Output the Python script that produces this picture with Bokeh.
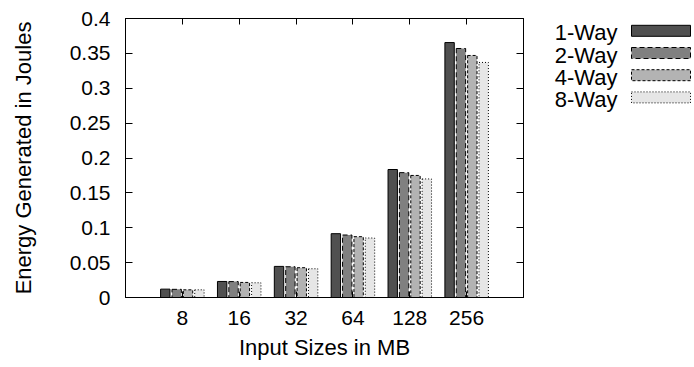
from bokeh.plotting import figure
from bokeh.models import FixedTicker, LinearAxis, CustomJSTickFormatter, ColumnDataSource, Range1d
from bokeh.layouts import row
from bokeh.embed import file_html
from bokeh.resources import INLINE
from bokeh.core.properties import value
from bokeh.transform import dodge

# ---- data ----
sizes = ["8", "16", "32", "64", "128", "256"]
series = ["1-Way", "2-Way", "4-Way", "8-Way"]
way1 = [0.0120, 0.0230, 0.0446, 0.0915, 0.1835, 0.3655]
way2 = [0.0117, 0.0228, 0.0441, 0.0896, 0.1790, 0.3570]
way4 = [0.0110, 0.0216, 0.0427, 0.0872, 0.1750, 0.3470]
way8 = [0.0110, 0.0211, 0.0412, 0.0853, 0.1700, 0.3370]
y_ticks = [0, 0.05, 0.1, 0.15, 0.2, 0.25, 0.3, 0.35, 0.4]

# ---- styles ----
FONT = "Liberation Sans"
FS = "21px"
FS_LABEL = "22px"
fills = ["#505050", "#808080", "#b3b3b3", "#e6e6e6"]
dashes = ["solid", "5 3", "3 2", "1 2"]
offsets = [-0.3, -0.1, 0.1, 0.3]
BAR_W = 0.165
TOP_B, BOT_B, H = 18, 70, 367

idx = list(range(len(sizes)))
src = ColumnDataSource(dict(x=idx, w1=way1, w2=way2, w4=way4, w8=way8))
cols = ["w1", "w2", "w4", "w8"]

p = figure(width=528, height=H, x_range=Range1d(-1, 6), y_range=Range1d(0, 0.4),
           output_backend="svg", toolbar_location=None, title_location=None,
           min_border_left=125, min_border_right=5, min_border_top=TOP_B, min_border_bottom=BOT_B)
p.background_fill_color = "white"
p.border_fill_color = "white"
p.outline_line_color = "black"
p.outline_line_width = 1
p.xgrid.visible = False
p.ygrid.visible = False

for c, off, fc, dsh in zip(cols, offsets, fills, dashes):
    p.vbar(x=dodge("x", off), top=c, width=BAR_W, source=src,
           fill_color=fc, line_color="black", line_width=1, line_dash=dsh)

# bottom axis
xa = p.xaxis[0]
xa.ticker = FixedTicker(ticks=idx)
xa.major_label_overrides = {i: s for i, s in zip(idx, sizes)}
xa.major_tick_in = 6
xa.major_tick_out = 0
xa.minor_tick_in = 0
xa.minor_tick_out = 0
xa.major_label_standoff = 13
xa.major_label_text_font = FONT
xa.major_label_text_font_size = FS
xa.major_label_text_color = "black"
xa.axis_label = "Input Sizes in MB"
xa.axis_label_text_font = FONT
xa.axis_label_text_font_size = FS_LABEL
xa.axis_label_text_font_style = "normal"
xa.axis_label_text_color = "black"
xa.axis_label_standoff = 7

# left axis
ya = p.yaxis[0]
ya.ticker = FixedTicker(ticks=y_ticks)
ya.formatter = CustomJSTickFormatter(code="return String(Math.round(tick*100)/100);")
ya.major_tick_in = 7
ya.major_tick_out = 0
ya.minor_tick_in = 0
ya.minor_tick_out = 0
ya.major_label_standoff = 15
ya.major_label_text_font = FONT
ya.major_label_text_font_size = FS
ya.major_label_text_color = "black"
ya.axis_label = "Energy Generated in Joules"
ya.axis_label_text_font = FONT
ya.axis_label_text_font_size = FS_LABEL
ya.axis_label_text_font_style = "normal"
ya.axis_label_text_color = "black"
ya.axis_label_standoff = 31

# mirror axes (ticks only)
top = LinearAxis(ticker=FixedTicker(ticks=idx),
                 formatter=CustomJSTickFormatter(code="return '';"),
                 major_tick_in=6, major_tick_out=0, minor_tick_in=0, minor_tick_out=0,
                 major_label_standoff=0, major_label_text_font_size="0px")
p.add_layout(top, "above")
right = LinearAxis(ticker=FixedTicker(ticks=y_ticks),
                   formatter=CustomJSTickFormatter(code="return '';"),
                   major_tick_in=7, major_tick_out=0, minor_tick_in=0, minor_tick_out=0,
                   major_label_standoff=0, major_label_text_font_size="0px")
p.add_layout(right, "right")

# ---- legend figure (its frame is aligned with the main frame in the row) ----
LW = 166
leg = figure(width=LW, height=H, x_range=Range1d(0, LW), y_range=Range1d(H - BOT_B, TOP_B),
             output_backend="svg", toolbar_location=None, title_location=None,
             x_axis_type=None, y_axis_type=None,
             min_border_left=0, min_border_right=0, min_border_top=TOP_B, min_border_bottom=BOT_B)
leg.outline_line_color = None
leg.xgrid.visible = False
leg.ygrid.visible = False
leg.background_fill_color = "white"
leg.border_fill_color = "white"

row_y = [30.3 + 22.2 * i for i in range(len(series))]
leg.text(x=[89] * len(series), y=[yy + 2 for yy in row_y], text=series,
         text_align="right", text_baseline="middle",
         text_font=value(FONT), text_font_size=FS_LABEL, text_color="black")
for yy, fc, dsh in zip(row_y, fills, dashes):
    leg.quad(left=[103], right=[162], top=[yy - 5.5], bottom=[yy + 5.5],
             fill_color=fc, line_color="black", line_width=1, line_dash=dsh)

layout = row(p, leg)
open("out.html", "w").write(file_html(layout, INLINE))
